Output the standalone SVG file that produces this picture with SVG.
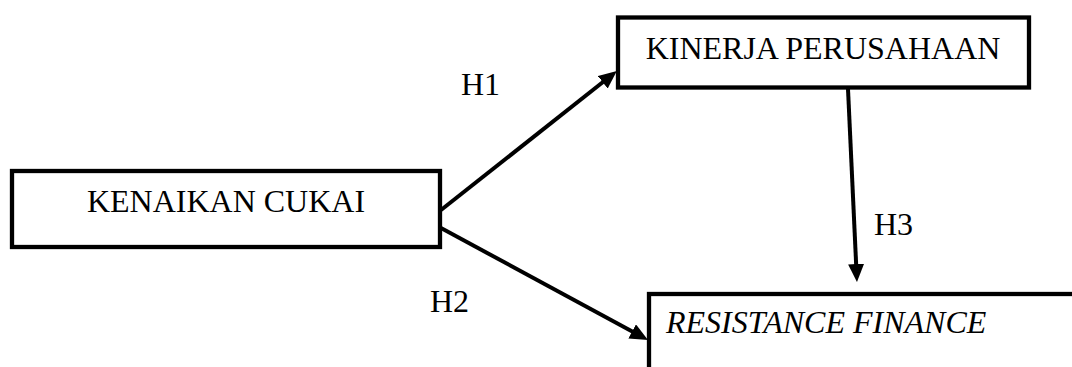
<svg xmlns="http://www.w3.org/2000/svg" width="1072" height="367" viewBox="0 0 1072 367">
<style>
.box{fill:#fff;stroke:#000;stroke-width:4.3}
.lbl{font-family:"Liberation Serif","Times New Roman",serif;font-size:32px;fill:#000}
.conn{stroke:#000;stroke-width:4;fill:none}
</style>
<defs>
<marker id="ah" markerUnits="userSpaceOnUse" markerWidth="18" markerHeight="16" refX="8" refY="8" orient="auto">
<path d="M0,0 L18,8 L0,16 Z" fill="#000"/>
</marker>
</defs>
<rect width="1072" height="367" fill="#fff"/>
<g id="node-kenaikan">
<rect class="box" x="12" y="171" width="428" height="76"/>
<text class="lbl" x="226" y="212" text-anchor="middle">KENAIKAN CUKAI</text>
</g>
<g id="node-kinerja">
<rect class="box" x="618" y="17.5" width="411" height="70"/>
<text class="lbl" x="823" y="59" text-anchor="middle">KINERJA PERUSAHAAN</text>
</g>
<g id="node-resistance">
<rect class="box" x="649" y="294" width="440" height="100"/>
<text class="lbl" x="666" y="333" font-style="italic">RESISTANCE FINANCE</text>
</g>
<g id="connectors">
<line class="conn" x1="441" y1="210" x2="609" y2="77.3" marker-end="url(#ah)"/>
<line class="conn" x1="441" y1="228" x2="639.2" y2="335.2" marker-end="url(#ah)"/>
<line class="conn" x1="848" y1="89" x2="856.5" y2="272" marker-end="url(#ah)"/>
<text class="lbl" x="461" y="95">H1</text>
<text class="lbl" x="430" y="312">H2</text>
<text class="lbl" x="874" y="235">H3</text>
</g>
</svg>
